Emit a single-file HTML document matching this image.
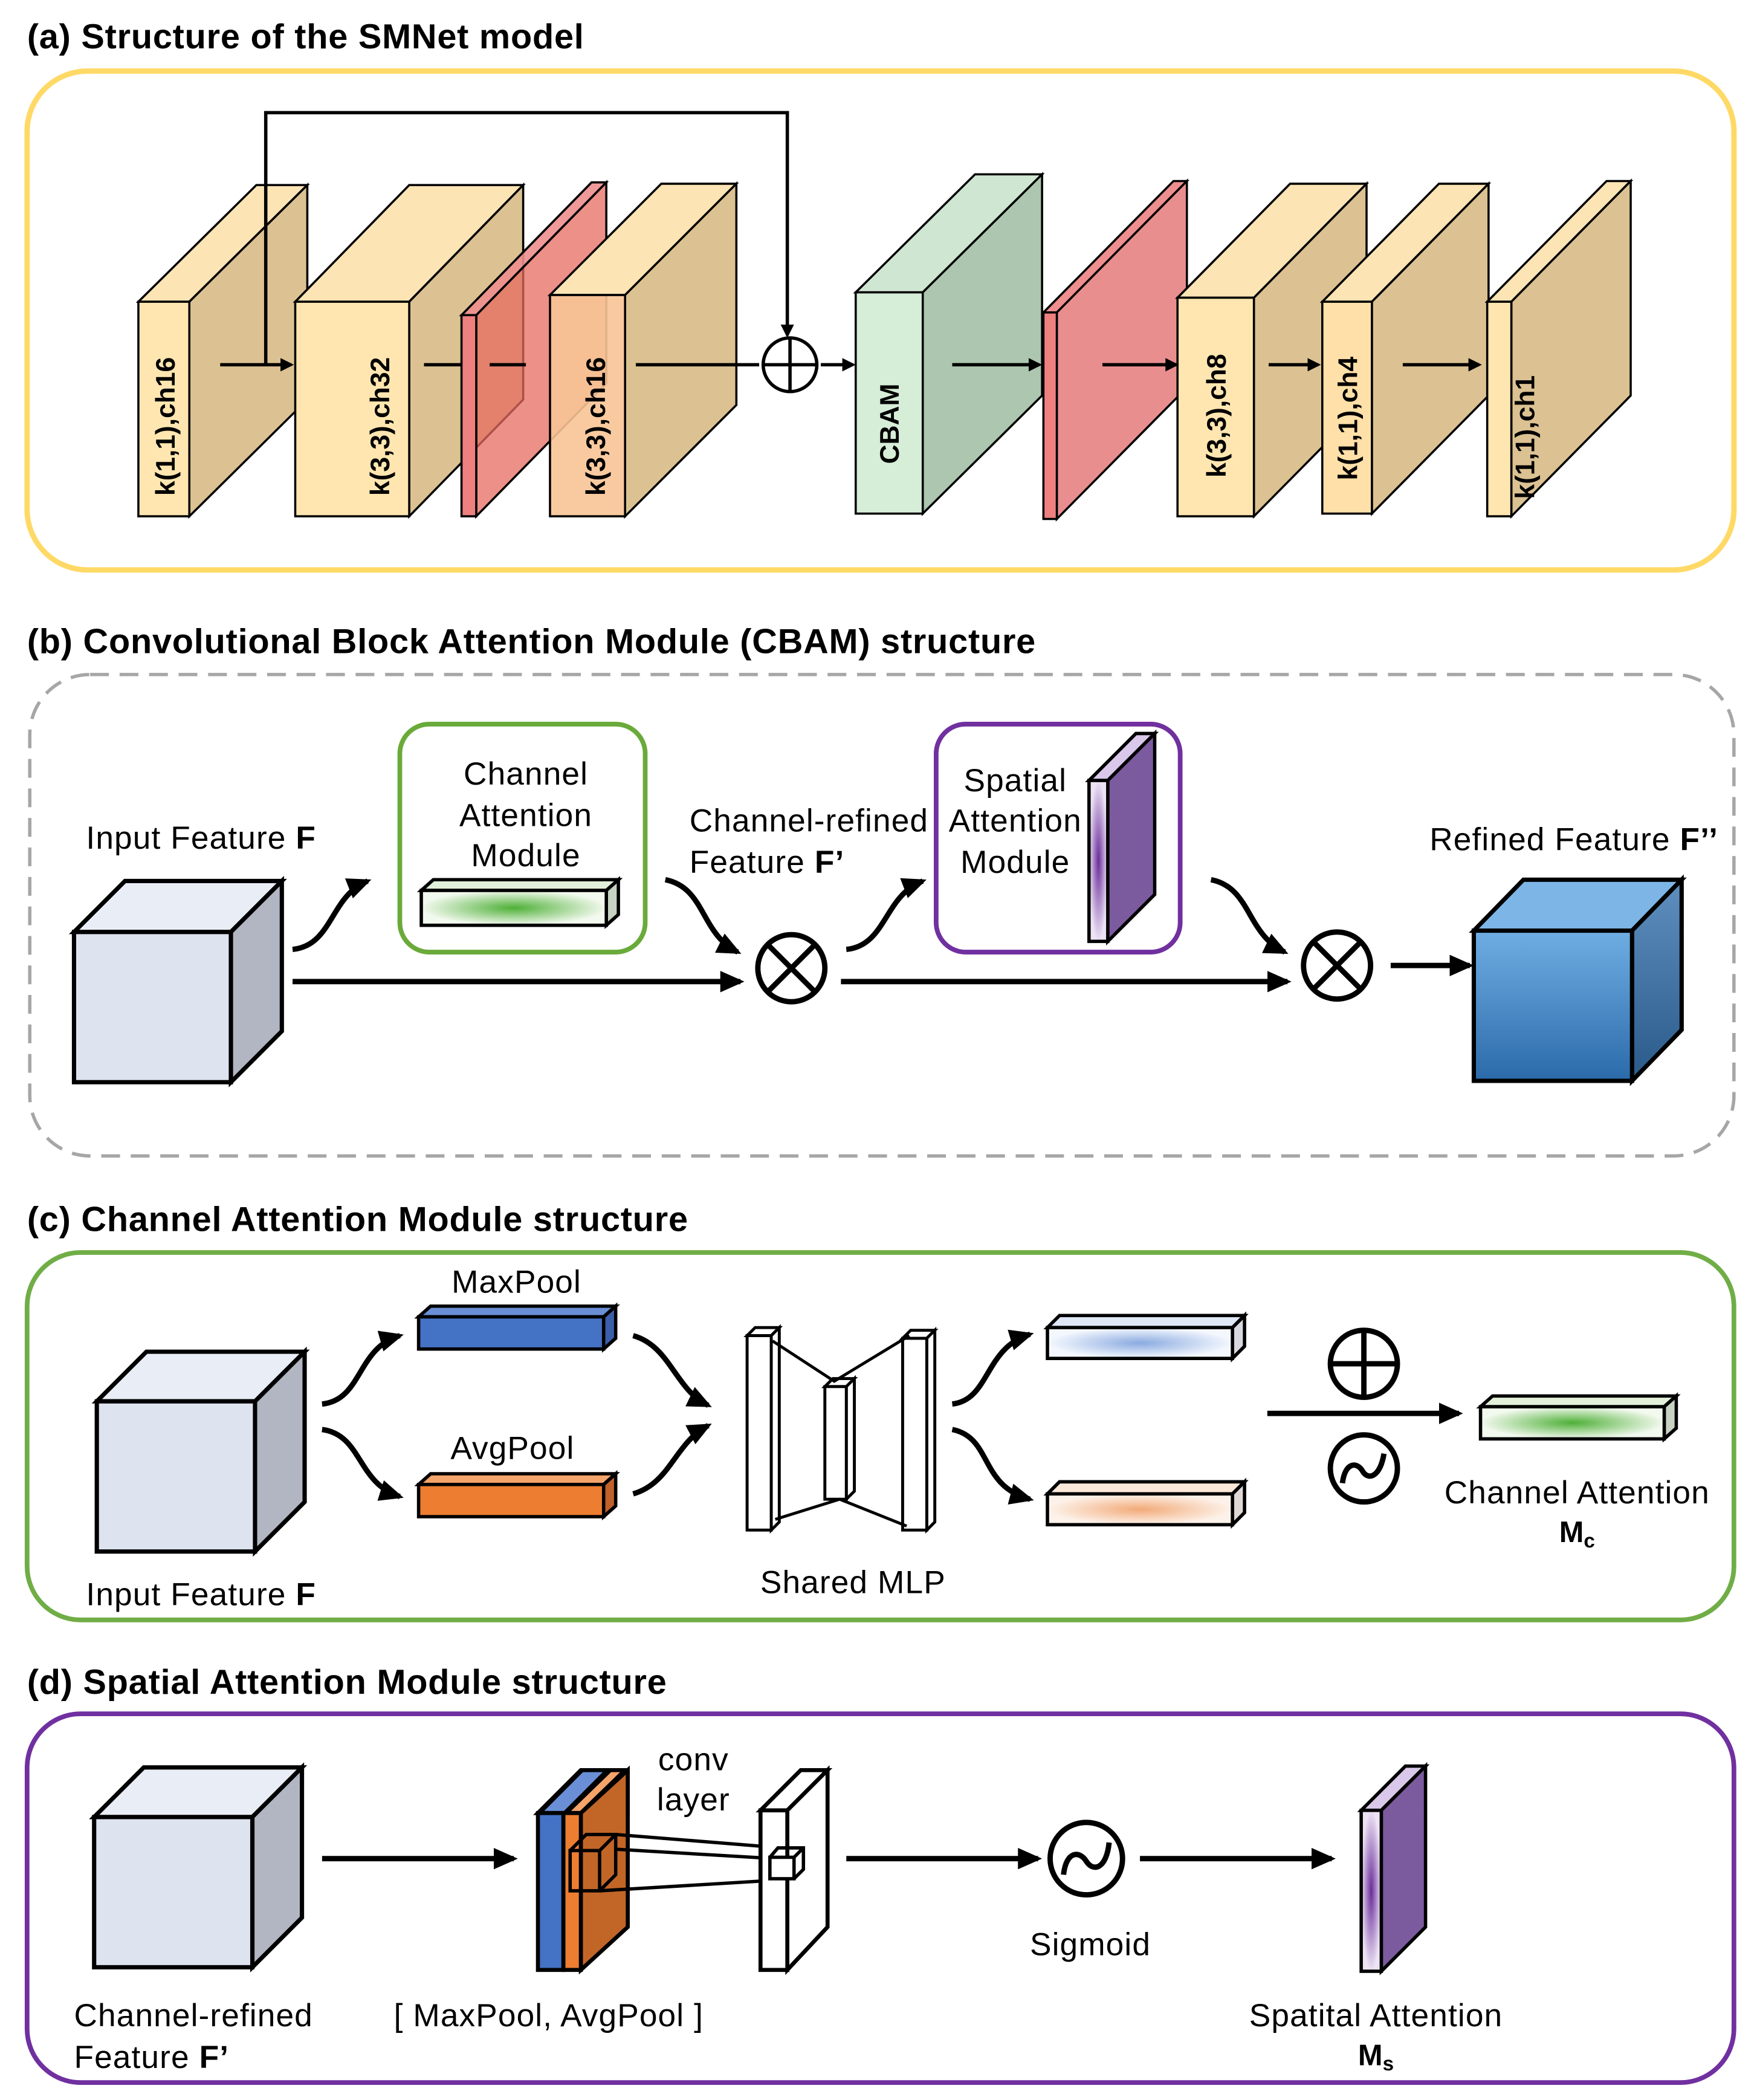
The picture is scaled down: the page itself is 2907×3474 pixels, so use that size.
<!DOCTYPE html>
<html><head><meta charset="utf-8"><style>
html,body{margin:0;padding:0;background:#fff}
svg{display:block}
text{font-family:"Liberation Sans",Arial,sans-serif;fill:#000}
.t{font-weight:bold;font-size:26px;letter-spacing:0.35px}
.l{font-size:24px;letter-spacing:0.5px}
.k{font-weight:bold;font-size:20px}
.s{stroke:#000;stroke-width:1.6}
.b{stroke:#000;stroke-width:3.2}
</style></head><body>
<svg width="2907" height="3474" viewBox="0 0 1310 1566" xmlns="http://www.w3.org/2000/svg">
<defs>
<marker id="ar" markerWidth="10" markerHeight="10" refX="8" refY="5" orient="auto" markerUnits="userSpaceOnUse"><path d="M0,0 L10,5 L0,10 z" fill="#000"/></marker>
<marker id="ar2" markerWidth="18" markerHeight="16" refX="15" refY="8" orient="auto" markerUnits="userSpaceOnUse"><path d="M0,0 L18,8 L0,16 z" fill="#000"/></marker>
<linearGradient id="gb" x1="0" y1="0" x2="0" y2="1"><stop offset="0" stop-color="#6FAEE3"/><stop offset="1" stop-color="#2B6AAA"/></linearGradient>
<linearGradient id="gbs" x1="0" y1="0" x2="0" y2="1"><stop offset="0" stop-color="#5E8FBF"/><stop offset="1" stop-color="#2A5A8A"/></linearGradient>
<radialGradient id="gg"><stop offset="0" stop-color="#4FB038"/><stop offset="1" stop-color="#F2F9EE"/></radialGradient>
<radialGradient id="gp"><stop offset="0" stop-color="#6A2C9A"/><stop offset="1" stop-color="#EDE3F5"/></radialGradient>
<radialGradient id="gbl"><stop offset="0" stop-color="#8AAAE0"/><stop offset="1" stop-color="#F4F8FE"/></radialGradient>
<radialGradient id="gor"><stop offset="0" stop-color="#F2AA78"/><stop offset="1" stop-color="#FDF2EA"/></radialGradient>
</defs>

<!-- (a) -->
<text class="t" x="20" y="36">(a) Structure of the SMNet model</text>
<rect x="20" y="53" width="1273" height="372" rx="45" fill="none" stroke="#FFD966" stroke-width="4"/>
<g class="s">
<polygon points="103,225 141,225 229,138 191,138" fill="#FCE4B4"/><polygon points="141,225 229,138 229,298 141,385" fill="#DCC292"/><rect x="103" y="225" width="38" height="160" fill="#FFE6B0"/>
<polygon points="220,225 305,225 390,138 305,138" fill="#FCE4B4"/><polygon points="305,225 390,138 390,298 305,385" fill="#DCC292"/><rect x="220" y="225" width="85" height="160" fill="#FFE6B0"/>
<polygon points="344,235 355,235 452,136 441,136" fill="#EE8E8E" fill-opacity="0.9"/><polygon points="355,235 452,136 452,286 355,385" fill="#E56B60" fill-opacity="0.75"/><rect x="344" y="235" width="11" height="150" fill="#EE8080"/>
<polygon points="410,220 466,220 549,137 493,137" fill="#FCE4B4"/><polygon points="466,220 549,137 549,302 466,385" fill="#DCC292"/><rect x="410" y="220" width="56" height="165" fill="#F8C496" fill-opacity="0.9"/>
<polygon points="638,218 688,218 777,130 727,130" fill="#CFE6D2"/><polygon points="688,218 777,130 777,295 688,383" fill="#ADC6AF"/><rect x="638" y="218" width="50" height="165" fill="#D6EDD8"/>
<polygon points="778,233 788,233 885,135 875,135" fill="#EE8E8E"/><polygon points="788,233 885,135 885,289 788,387" fill="#E98E8E"/><rect x="778" y="233" width="10" height="154" fill="#EE8080"/>
<polygon points="878,222 935,222 1019,137 962,137" fill="#FCE4B4"/><polygon points="935,222 1019,137 1019,300 935,385" fill="#DCC292"/><rect x="878" y="222" width="57" height="163" fill="#FFE6B0"/>
<polygon points="986,225 1023,225 1110,137 1073,137" fill="#FCE4B4"/><polygon points="1023,225 1110,137 1110,295 1023,383" fill="#DCC292"/><rect x="986" y="225" width="37" height="158" fill="#FFE0A8"/>
<polygon points="1109,225 1127,225 1216,135 1198,135" fill="#FCE4B4"/><polygon points="1127,225 1216,135 1216,295 1127,385" fill="#DCC292"/><rect x="1109" y="225" width="18" height="160" fill="#FFE6B0"/>
</g>
<g stroke="#000" stroke-width="2.5" fill="none">
<path d="M198,272 V84 H587 V250" marker-end="url(#ar)"/>
<path d="M164,272 H217" marker-end="url(#ar)"/>
<path d="M316,272 H344 M365,272 H392"/>
<path d="M474,272 H566"/>
<path d="M612,272 H636" marker-end="url(#ar)"/>
<path d="M710,272 H775" marker-end="url(#ar)"/>
<path d="M822,272 H877" marker-end="url(#ar)"/>
<path d="M946,272 H983" marker-end="url(#ar)"/>
<path d="M1046,272 H1103" marker-end="url(#ar)"/>
<circle cx="589" cy="272" r="20"/><path d="M569,272 H609 M589,252 V292"/>
</g>
<g class="k">
<text transform="translate(130,318) rotate(-90)" text-anchor="middle">k(1,1),ch16</text>
<text transform="translate(290,318) rotate(-90)" text-anchor="middle">k(3,3),ch32</text>
<text transform="translate(451,318) rotate(-90)" text-anchor="middle">k(3,3),ch16</text>
<text transform="translate(670,316) rotate(-90)" text-anchor="middle">CBAM</text>
<text transform="translate(914,310) rotate(-90)" text-anchor="middle">k(3,3),ch8</text>
<text transform="translate(1012,312) rotate(-90)" text-anchor="middle">k(1,1),ch4</text>
<text transform="translate(1144,326) rotate(-90)" text-anchor="middle">k(1,1),ch1</text>
</g>

<!-- (b) -->
<text class="t" x="20" y="487">(b) Convolutional Block Attention Module (CBAM) structure</text>
<rect x="22" y="503" width="1271" height="359" rx="45" fill="none" stroke="#A6A6A6" stroke-width="2.5" stroke-dasharray="14,8"/>
<g class="b">
<polygon points="55,695 172,695 210,657 93,657" fill="#E9EDF6"/><polygon points="172,695 210,657 210,769 172,807" fill="#B2B6C2"/><rect x="55" y="695" width="117" height="112" fill="#DEE3F0"/>
</g>
<text class="l" x="64" y="633">Input Feature <tspan font-weight="bold">F</tspan></text>
<rect x="298" y="540" width="183" height="170" rx="22" fill="none" stroke="#6AAA3A" stroke-width="3.5"/>
<text class="l" text-anchor="middle" x="392" y="585">Channel</text>
<text class="l" text-anchor="middle" x="392" y="616">Attention</text>
<text class="l" text-anchor="middle" x="392" y="646">Module</text>
<g stroke="#000" stroke-width="2.5">
<polygon points="314,664 452,664 461,656 323,656" fill="#E2F0D9"/><polygon points="452,664 461,656 461,682 452,690" fill="#C8D2C2"/><rect x="314" y="664" width="138" height="26" fill="url(#gg)"/>
</g>
<rect x="698" y="540" width="182" height="170" rx="22" fill="none" stroke="#7030A0" stroke-width="3.5"/>
<text class="l" text-anchor="middle" x="757" y="590">Spatial</text>
<text class="l" text-anchor="middle" x="757" y="620">Attention</text>
<text class="l" text-anchor="middle" x="757" y="651">Module</text>
<g stroke="#000" stroke-width="2.5">
<polygon points="812,582 826,582 861,547 847,547" fill="#D9C8EA"/><polygon points="826,582 861,547 861,667 826,702" fill="#7C5A9E"/><rect x="812" y="582" width="14" height="120" fill="url(#gp)"/>
</g>
<text class="l" x="514" y="620">Channel-refined</text>
<text class="l" x="514" y="651">Feature <tspan font-weight="bold">F’</tspan></text>
<text class="l" x="1066" y="634">Refined Feature <tspan font-weight="bold">F’’</tspan></text>
<g class="b">
<polygon points="1099,694 1217,694 1254,656 1136,656" fill="#7DB6E6"/><polygon points="1217,694 1254,656 1254,768 1217,806" fill="url(#gbs)"/><rect x="1099" y="694" width="118" height="112" fill="url(#gb)"/>
</g>
<g stroke="#000" stroke-width="4" fill="none">
<path d="M218,708 C248,705 246,668 274,657" marker-end="url(#ar2)"/>
<path d="M496,656 C526,662 522,696 550,710" marker-end="url(#ar2)"/>
<path d="M631,708 C661,705 659,668 688,657" marker-end="url(#ar2)"/>
<path d="M903,656 C933,662 929,696 958,710" marker-end="url(#ar2)"/>
<path d="M218,732 H552" marker-end="url(#ar2)"/>
<path d="M627,732 H960" marker-end="url(#ar2)"/>
<path d="M1037,720 H1096" marker-end="url(#ar2)"/>
<circle cx="590" cy="722" r="25"/><path d="M572,704 L608,740 M608,704 L572,740"/>
<circle cx="997" cy="720" r="25"/><path d="M979,702 L1015,738 M1015,702 L979,738"/>
</g>

<!-- (c) -->
<text class="t" x="20" y="918">(c) Channel Attention Module structure</text>
<rect x="20" y="934" width="1273" height="274" rx="40" fill="none" stroke="#70AD47" stroke-width="3.5"/>
<g class="b">
<polygon points="72,1045 190,1045 227,1008 109,1008" fill="#E9EDF6"/><polygon points="190,1045 227,1008 227,1120 190,1157" fill="#B2B6C2"/><rect x="72" y="1045" width="118" height="112" fill="#DEE3F0"/>
</g>
<text class="l" x="64" y="1197">Input Feature <tspan font-weight="bold">F</tspan></text>
<text class="l" text-anchor="middle" x="385" y="964">MaxPool</text>
<text class="l" text-anchor="middle" x="382" y="1088">AvgPool</text>
<g stroke="#000" stroke-width="2.5">
<polygon points="312,982 450,982 459,974 321,974" fill="#6A8FD6"/><polygon points="450,982 459,974 459,998 450,1006" fill="#3A5EA8"/><rect x="312" y="982" width="138" height="24" fill="#4472C4"/>
<polygon points="312,1107 450,1107 459,1099 321,1099" fill="#F4A46A"/><polygon points="450,1107 459,1099 459,1123 450,1131" fill="#C0602A"/><rect x="312" y="1107" width="138" height="24" fill="#ED7D31"/>
<polygon points="781,990 919,990 928,981 790,981" fill="#DDE7F6"/><polygon points="919,990 928,981 928,1004 919,1013" fill="#D8D8E0"/><rect x="781" y="990" width="138" height="23" fill="url(#gbl)"/>
<polygon points="781,1114 919,1114 928,1105 790,1105" fill="#FCE8DA"/><polygon points="919,1114 928,1105 928,1128 919,1137" fill="#E0D8D4"/><rect x="781" y="1114" width="138" height="23" fill="url(#gor)"/>
<polygon points="1104,1049 1241,1049 1250,1041 1113,1041" fill="#E2F0D9"/><polygon points="1241,1049 1250,1041 1250,1065 1241,1073" fill="#C8D2C2"/><rect x="1104" y="1049" width="137" height="24" fill="url(#gg)"/>
</g>
<g stroke="#000" stroke-width="2.2" fill="#fff">
<polygon points="557,996 563,990 581,990 575,996"/><polygon points="575,996 581,990 581,1135 575,1141"/><rect x="557" y="996" width="18" height="145"/>
<polygon points="615,1034 621,1028 637,1028 631,1034"/><polygon points="631,1034 637,1028 637,1112 631,1118"/><rect x="615" y="1034" width="16" height="84"/>
<polygon points="673,998 679,992 697,992 691,998"/><polygon points="691,998 697,992 697,1135 691,1141"/><rect x="673" y="998" width="18" height="143"/>
<path d="M576,1000 L622,1030 L678,996 M578,1133 L626,1118 L676,1138" fill="none"/>
</g>
<text class="l" text-anchor="middle" x="636" y="1188">Shared MLP</text>
<g stroke="#000" stroke-width="4" fill="none">
<path d="M240,1047 C270,1044 266,1005 298,996" marker-end="url(#ar2)"/>
<path d="M240,1066 C270,1070 266,1106 298,1116" marker-end="url(#ar2)"/>
<path d="M472,996 C500,1004 503,1036 528,1048" marker-end="url(#ar2)"/>
<path d="M472,1114 C500,1106 503,1076 528,1063" marker-end="url(#ar2)"/>
<path d="M710,1047 C738,1044 734,1005 768,995" marker-end="url(#ar2)"/>
<path d="M710,1066 C740,1072 730,1108 768,1118" marker-end="url(#ar2)"/>
<path d="M945,1054 H1088" marker-end="url(#ar2)"/>
<circle cx="1017" cy="1017" r="25"/><path d="M992,1017 H1042 M1017,992 V1042"/>
<circle cx="1017" cy="1095" r="25"/><path d="M1001,1106 C1003,1090 1012,1090 1016,1097 C1020,1104 1029,1102 1032,1084"/>
</g>
<text class="l" text-anchor="middle" x="1176" y="1121">Channel Attention</text>
<text text-anchor="middle" x="1176" y="1150" font-family="Liberation Serif,serif" font-weight="bold" font-size="22">M<tspan font-size="15" dy="4">c</tspan></text>

<!-- (d) -->
<text class="t" x="20" y="1263">(d) Spatial Attention Module structure</text>
<rect x="20" y="1278" width="1273" height="275" rx="40" fill="none" stroke="#7030A0" stroke-width="3.5"/>
<g class="b">
<polygon points="70,1355 188,1355 225,1318 107,1318" fill="#E9EDF6"/><polygon points="188,1355 225,1318 225,1430 188,1467" fill="#B2B6C2"/><rect x="70" y="1355" width="118" height="112" fill="#DEE3F0"/>
</g>
<text class="l" x="55" y="1511">Channel-refined</text>
<text class="l" x="55" y="1542">Feature <tspan font-weight="bold">F’</tspan></text>
<g stroke="#000" stroke-width="3">
<polygon points="401,1352 468,1352 468,1320 433,1320" fill="#C26628"/>
<polygon points="433,1352 468,1320 468,1437 433,1469" fill="#C26628"/>
<polygon points="402,1352 421,1352 453,1320 434,1320" fill="#6A8FD6"/>
<polygon points="422,1352 433,1352 466,1320 455,1320" fill="#F4A46A"/>
<rect x="401" y="1352" width="19" height="117" fill="#4472C4"/>
<rect x="420" y="1352" width="13" height="117" fill="#ED7D31"/>
</g>
<g stroke="#000" stroke-width="2.5" fill="none">
<rect x="425" y="1380" width="22" height="30"/><path d="M425,1380 L437,1368 H459 V1398 L447,1410 M447,1380 L459,1368"/>
<path d="M459,1368 L583,1378 M459,1379 L578,1386 M447,1410 L580,1402"/>
</g>
<g stroke="#000" stroke-width="3" fill="#fff">
<polygon points="567,1350 587,1350 617,1320 597,1320"/><polygon points="587,1350 617,1320 617,1437 587,1469"/><rect x="567" y="1350" width="20" height="119"/>
</g>
<g stroke="#000" stroke-width="2.5" fill="none">
<rect x="574" y="1385" width="18" height="16" fill="#fff"/><path d="M574,1385 L580,1378 H599 V1394 L592,1401 M592,1385 L599,1378"/>
</g>
<text class="l" text-anchor="middle" x="517" y="1320">conv</text>
<text class="l" text-anchor="middle" x="517" y="1350">layer</text>
<text class="l" text-anchor="middle" x="409" y="1511">[ MaxPool, AvgPool ]</text>
<g stroke="#000" stroke-width="4" fill="none">
<path d="M240,1386 H383" marker-end="url(#ar2)"/>
<path d="M631,1386 H774" marker-end="url(#ar2)"/>
<path d="M850,1386 H993" marker-end="url(#ar2)"/>
<circle cx="810" cy="1386" r="27"/><path d="M793,1398 C795,1380 805,1380 810,1388 C815,1396 825,1394 827,1374"/>
</g>
<text class="l" text-anchor="middle" x="813" y="1458">Sigmoid</text>
<g stroke="#000" stroke-width="2.5">
<polygon points="1015,1350 1030,1350 1063,1317 1048,1317" fill="#D9C8EA"/><polygon points="1030,1350 1063,1317 1063,1437 1030,1470" fill="#7C5A9E"/><rect x="1015" y="1350" width="15" height="120" fill="url(#gp)"/>
</g>
<text class="l" text-anchor="middle" x="1026" y="1511">Spatital Attention</text>
<text text-anchor="middle" x="1026" y="1540" font-family="Liberation Serif,serif" font-weight="bold" font-size="22">M<tspan font-size="15" dy="4">s</tspan></text>
</svg>
</body></html>
